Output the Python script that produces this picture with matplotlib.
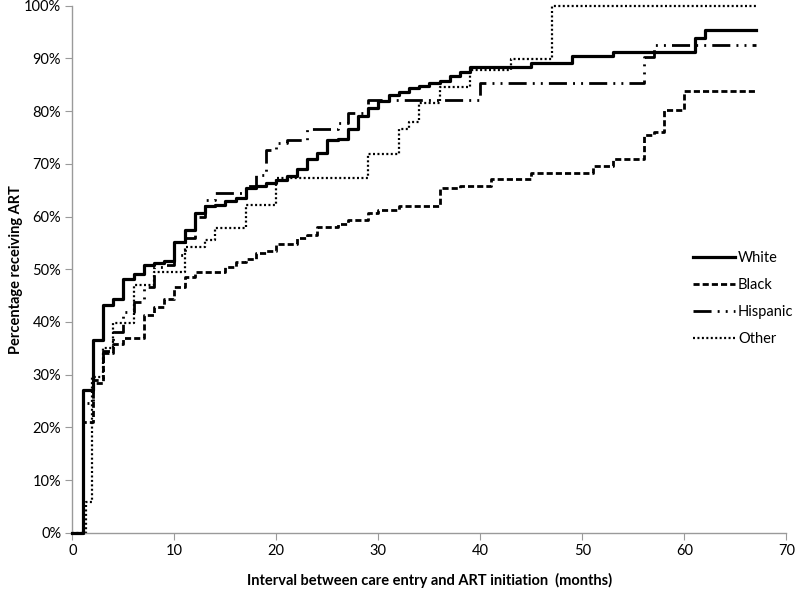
import matplotlib
matplotlib.use('Agg')
import matplotlib.pyplot as plt
from matplotlib.ticker import PercentFormatter

plt.rcParams['font.family'] = ['Lato', 'DejaVu Sans']

# cumulative % receiving ART, step points (months, %)
white_t = [0, 1, 2, 3, 4, 5, 6, 7, 8, 9, 10, 11, 12, 13, 14, 15, 16, 17, 18, 19, 20,
           21, 22, 23, 24, 25, 26, 27, 28, 29, 30, 31, 32, 33, 34, 35, 36, 37, 38, 39,
           45, 49, 53, 61, 62, 67]
white_v = [0, 27.1, 36.6, 43.2, 44.3, 48.1, 49.0, 50.8, 51.2, 51.6, 55.2, 57.4, 60.6, 62.0,
           62.2, 63.0, 63.6, 65.4, 65.8, 66.3, 67.0, 67.6, 69.1, 70.9, 72.1, 74.5, 74.8,
           76.7, 79.1, 80.5, 82.0, 83.1, 83.7, 84.3, 84.8, 85.3, 85.7, 86.7, 87.5, 88.3,
           89.2, 90.5, 91.3, 93.8, 95.3, 95.3]

black_t = [0, 1, 2, 3, 4, 5, 7, 8, 9, 10, 11, 12, 15, 16, 17, 18, 19, 20, 22, 23, 24, 26,
           27, 29, 30, 32, 36, 38, 41, 45, 51, 53, 56, 57, 58, 60, 67]
black_v = [0, 21.0, 28.5, 34.1, 35.9, 37.0, 41.3, 42.9, 44.3, 46.7, 48.6, 49.5, 50.4, 51.4,
           51.9, 53.1, 53.5, 54.8, 55.9, 56.5, 58.1, 58.5, 59.3, 60.6, 61.2, 62.0, 65.5,
           65.8, 67.2, 68.2, 69.6, 70.9, 75.4, 76.1, 80.2, 83.9, 83.9]

hisp_t = [0, 1, 2, 3, 4, 5, 6, 7, 8, 9, 10, 11, 12, 13, 14, 17, 18, 19, 20, 21, 23, 26,
          27, 29, 40, 56, 57, 67]
hisp_v = [0, 24.6, 29.0, 34.5, 38.0, 41.9, 43.8, 46.7, 50.5, 50.8, 52.7, 56.0, 60.0, 63.1,
          64.4, 65.7, 67.9, 72.6, 74.0, 74.6, 76.7, 77.7, 79.6, 82.1, 85.4, 90.3, 92.5, 92.5]

other_t = [0, 1.3, 1.9, 3, 4, 6, 8, 11, 13, 14, 17, 20, 29, 32, 33, 34, 36, 39, 43, 47, 67]
other_v = [0, 5.9, 29.6, 35.0, 39.7, 47.0, 49.5, 54.3, 55.5, 57.8, 62.2, 67.4, 71.8, 76.7,
           78.0, 81.5, 84.6, 87.8, 89.8, 100.0, 100.0]

fig = plt.figure(figsize=(8, 5.9), dpi=100)
ax = fig.add_axes([0.0904, 0.0971, 0.8925, 0.8932])

ax.step(white_t, white_v, where='post', color='black', lw=2.3, label='White',
        clip_on=False, zorder=4)
ax.step(black_t, black_v, where='post', color='black', lw=2.0,
        dashes=(2.2, 1.1), label='Black', clip_on=False)
ax.step(hisp_t, hisp_v, where='post', color='black', lw=2.0,
        dashes=(6.5, 2.2, 0.7, 2.2, 0.7, 2.2), label='Hispanic', clip_on=False)
ax.step(other_t, other_v, where='post', color='black', lw=1.6,
        dashes=(0.9, 1.1), label='Other', clip_on=False)

ax.set_xlim(0, 70)
ax.set_ylim(0, 100)
ax.set_xticks(range(0, 71, 10))
ax.set_yticks(range(0, 101, 10))
ax.yaxis.set_major_formatter(PercentFormatter(decimals=0))

for s in ['top', 'right']:
    ax.spines[s].set_visible(False)
for s in ['left', 'bottom']:
    ax.spines[s].set_color('#9a9a9a')
    ax.spines[s].set_linewidth(1.0)
ax.tick_params(direction='out', length=5, color='#9a9a9a', labelsize=10.5, pad=3)

ax.set_xlabel('Interval between care entry and ART initiation  (months)',
              fontsize=10.5, fontweight='bold', labelpad=11)
ax.set_ylabel('Percentage receiving ART', fontsize=10.5, fontweight='bold', labelpad=1)

ax.legend(loc='upper left', bbox_to_anchor=(0.866, 0.575), bbox_transform=fig.transFigure,
          frameon=False, fontsize=10.5, handlelength=2.9, handletextpad=0.2,
          labelspacing=0.9, borderpad=0, borderaxespad=0)

plt.savefig('out.png', dpi=100)
